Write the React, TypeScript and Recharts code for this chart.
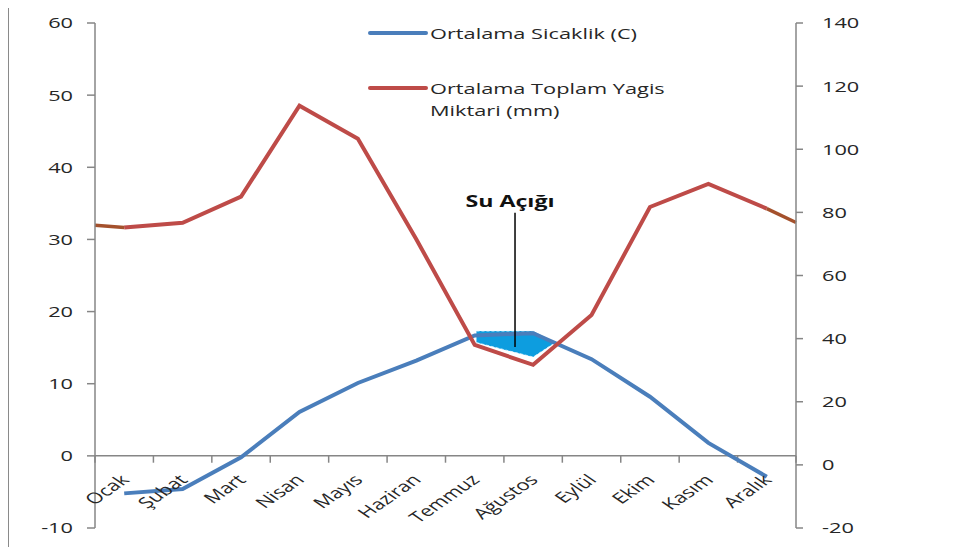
import { Area, ComposedChart, Legend, Line, ReferenceLine, XAxis, YAxis } from 'recharts'

const months = ['Ocak', 'Şubat', 'Mart', 'Nisan', 'Mayıs', 'Haziran', 'Temmuz', 'Ağustos', 'Eylül', 'Ekim', 'Kasım', 'Aralık']
const temperature = [-5.2, -4.6, -0.2, 6.1, 10.1, 13.2, 16.7, 17.0, 13.4, 8.2, 1.8, -2.9]
const precipitation = [75.2, 76.7, 85.0, 113.8, 103.3, 71.5, 38.0, 31.7, 47.5, 81.7, 89.0, 81.2]
const leftTicks = [-10, 0, 10, 20, 30, 40, 50, 60]
const rightTicks = [-20, 0, 20, 40, 60, 80, 100, 120, 140]

// hand-drawn ends of the rainfall line (axis edge -> first / last month)
const rainStartEdge = [75.9, 75.2]
const rainEndEdge = [81.2, 76.8]

// "Su Açığı" (water deficit) patch between the two lines
const deficitX = [7.03, 8, 8.38]
const deficitLow = [15.7, 13.7, 15.7]
const deficitHigh = [17.3, 17.3, 15.7]
const deficitMarkerX = 7.69
const deficitMarkerY = [15.1, 33.7]

const BLUE = '#4a7ebb'
const RED = '#be4b48'
const BROWN = '#a4512c'
const PATCH = '#0d9ddf'
const AXIS = '#868686'
const TEXT = '#262626'
const FONT = '"Open Sans", sans-serif'
const S = 1.45 // the original picture is stretched horizontally

const PLOT_H = 505
const ZERO_OFFSET = (PLOT_H * (0 - -10)) / (60 - -10)

const data = months.map((m, i) => ({ x: i + 1, month: m, temp: temperature[i], rain: precipitation[i] }))
const deficit = deficitX.map((x, i) => ({ x, range: [deficitLow[i], deficitHigh[i]] }))
const boundaries = [...months.map((_, i) => i + 0.5), months.length + 0.5]

const XTick = (props: any) => {
  const { x, y, payload } = props
  return (
    <g transform={`translate(${x + 6},${y - ZERO_OFFSET + 25}) scale(${S},1) rotate(-45)`}>
      <text textAnchor="end" fontSize={15} fill={TEXT} fontFamily={FONT}>
        {months[payload.value - 1]}
      </text>
    </g>
  )
}

const YTick = (props: any) => {
  const { x, y, payload, anchor } = props
  return (
    <g transform={`translate(${x},${y}) scale(${S},1)`}>
      <text textAnchor={anchor} dy="0.36em" fontSize={15} fill={TEXT} fontFamily={FONT}>
        {payload.value}
      </text>
    </g>
  )
}

const renderLegend = (props: any) => {
  const items = (props.payload || []).filter((p: any) => p.type !== 'none')
  return (
    <div style={{ fontFamily: FONT, fontSize: 15, color: TEXT, lineHeight: '22px' }}>
      {items.map((p: any, i: number) => (
        <div key={i} style={{ display: 'flex', alignItems: 'flex-start', marginBottom: i === 0 ? 33 : 0 }}>
          <div style={{ width: 60, height: 4, background: p.color, marginTop: 9, borderRadius: 2 }} />
          <div style={{ marginLeft: 2, width: 190, transform: `scaleX(${S})`, transformOrigin: 'left top' }}>{p.value}</div>
        </div>
      ))}
    </div>
  )
}

const renderDeficitLabel = (props: any) => {
  const { x, y, width } = props.viewBox
  return (
    <g transform={`translate(${x + width / 2 - 5},${y - 6}) scale(${S},1)`}>
      <text textAnchor="middle" fontSize={16} fontWeight={700} fill="#111" fontFamily={FONT}>
        Su Açığı
      </text>
    </g>
  )
}

export default function App() {
  return (
    <div style={{ marginTop: -4, width: 953, height: 560, borderTop: '1px solid #8a8a8a', borderLeft: '1px solid #8a8a8a', background: '#fff' }}>
      <ComposedChart width={953} height={543} data={data} margin={{ top: 18, right: 96, bottom: 0, left: 16 }}>
        <XAxis
          xAxisId="x"
          dataKey="x"
          type="number"
          domain={[0.5, 12.5]}
          ticks={months.map((_, i) => i + 1)}
          interval={0}
          axisLine={false}
          tickLine={false}
          tickSize={0}
          tickMargin={0}
          height={20}
          tick={<XTick />}
        />
        <YAxis
          yAxisId="left"
          domain={[-10, 60]}
          ticks={leftTicks}
          width={70}
          axisLine={{ stroke: AXIS, strokeWidth: 1.5 }}
          tickLine={{ stroke: AXIS, strokeWidth: 1.5 }}
          tickSize={8}
          tickMargin={14}
          tick={<YTick anchor="end" />}
        />
        <YAxis
          yAxisId="right"
          orientation="right"
          domain={[-20, 140]}
          ticks={rightTicks}
          width={70}
          axisLine={{ stroke: AXIS, strokeWidth: 1.5 }}
          tickLine={{ stroke: AXIS, strokeWidth: 1.5 }}
          tickSize={7}
          tickMargin={19}
          tick={<YTick anchor="start" />}
        />
        <Legend
          layout="vertical"
          verticalAlign="middle"
          align="center"
          wrapperStyle={{ top: 17, left: 359, width: 400, right: 'auto', bottom: 'auto' }}
          content={renderLegend}
        />
        <ReferenceLine xAxisId="x" yAxisId="left" y={0} stroke={AXIS} strokeWidth={1.5} />
        {boundaries.map((b) => (
          <ReferenceLine
            key={b}
            xAxisId="x"
            yAxisId="left"
            segment={[{ x: b, y: 0 }, { x: b, y: -0.95 }]}
            stroke={AXIS}
            strokeWidth={1.5}
          />
        ))}
        <Line
          xAxisId="x"
          yAxisId="left"
          type="linear"
          dataKey="temp"
          name="Ortalama Sicaklik (C)"
          stroke={BLUE}
          strokeWidth={4}
          dot={false}
          isAnimationActive={false}
        />
        <Line
          xAxisId="x"
          yAxisId="right"
          type="linear"
          dataKey="rain"
          name="Ortalama Toplam Yagis Miktari (mm)"
          stroke={RED}
          strokeWidth={4}
          dot={false}
          isAnimationActive={false}
        />
        <ReferenceLine
          xAxisId="x"
          yAxisId="right"
          segment={[{ x: 0.5, y: rainStartEdge[0] }, { x: 1, y: rainStartEdge[1] }]}
          stroke={BROWN}
          strokeWidth={3.5}
        />
        <ReferenceLine
          xAxisId="x"
          yAxisId="right"
          segment={[{ x: 12, y: rainEndEdge[0] }, { x: 12.5, y: rainEndEdge[1] }]}
          stroke={BROWN}
          strokeWidth={3.5}
        />
        <Area
          xAxisId="x"
          yAxisId="left"
          data={deficit}
          type="linear"
          dataKey="range"
          fill={PATCH}
          fillOpacity={1}
          stroke="#e6f5fc"
          strokeDasharray="3 2"
          strokeWidth={0.8}
          legendType="none"
          isAnimationActive={false}
        />
        <ReferenceLine
          xAxisId="x"
          yAxisId="left"
          segment={[{ x: deficitMarkerX, y: deficitMarkerY[0] }, { x: deficitMarkerX, y: deficitMarkerY[1] }]}
          stroke="#000"
          strokeWidth={1.5}
          label={renderDeficitLabel}
        />
      </ComposedChart>
    </div>
  )
}
